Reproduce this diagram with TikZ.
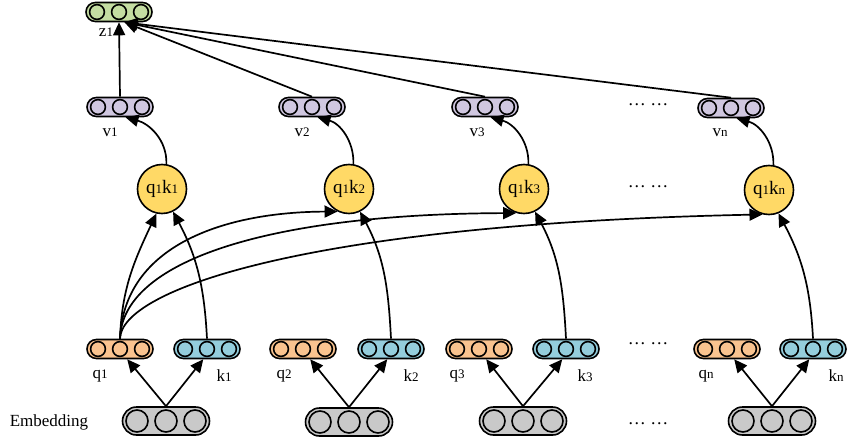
\documentclass[tikz,border=0pt]{standalone}
\usepackage{fontspec}
\setmainfont{Liberation Serif}
\usetikzlibrary{arrows.meta}
\definecolor{zgreen}{HTML}{C4DDA2}
\definecolor{vpurple}{HTML}{D0C7E0}
\definecolor{qorange}{HTML}{F9C38F}
\definecolor{kblue}{HTML}{94CDDC}
\definecolor{scoreyellow}{HTML}{FFD966}
\definecolor{embgray}{HTML}{C9C9C9}

% small vector: pill with three cells
\newcommand{\vecbox}[4]{%
  \node [vec, fill=#4] (#1) at (#2,#3) {};
  \foreach \dx in {-11,0,11}
    \draw [cell, fill=#4] ([xshift=\dx pt]#1.center) circle (3.7pt);
}
% embedding vector
\newcommand{\embbox}[3]{%
  \node [emb] (#1) at (#2,#3) {};
  \foreach \dx in {-14.5,0,14.5}
    \draw [cell, fill=embgray] ([xshift=\dx pt]#1.center) circle (5.5pt);
}
\newcommand{\idx}[1]{{\fontsize{6.5}{7}\selectfont #1}}

\begin{document}
\begin{tikzpicture}[x=0.5pt, y=-0.5pt, font=\fontsize{8.5}{10}\selectfont,
    vec/.style={draw, line width=0.8pt, rounded corners=4.7pt,
      minimum width=33pt, minimum height=9.5pt, inner sep=0pt},
    emb/.style={draw, fill=embgray, line width=0.8pt, rounded corners=7pt,
      minimum width=43.5pt, minimum height=14pt, inner sep=0pt},
    cell/.style={line width=0.8pt},
    score/.style={draw, circle, fill=scoreyellow, line width=0.8pt,
      minimum size=24.5pt, inner sep=0pt, font=\fontsize{9.5}{10}\selectfont},
    link/.style={-{Triangle[length=6.5pt, width=6pt]}, line width=0.85pt},
    dots/.style={font=\fontsize{9}{10}\selectfont}]
  \useasboundingbox (0,0) rectangle (850,444);

  % output
  \vecbox{z1}{119}{12}{zgreen}
  \node (lz1) at (106,32) {z\idx{1}};

  % values
  \vecbox{v1}{120}{107}{vpurple}
  \vecbox{v2}{312}{107}{vpurple}
  \vecbox{v3}{485}{107}{vpurple}
  \vecbox{vn}{731}{108}{vpurple}
  \node (lv1) at (110,132) {v\idx{1}};
  \node (lv2) at (302,132) {v\idx{2}};
  \node (lv3) at (477,132) {v\idx{3}};
  \node (lvn) at (720,133) {v\idx{n}};
  \node [dots] (dv) at (648,105) {\dots\ \dots};

  % scores
  \node [score] (s1) at (162,189) {q\idx{1}k\idx{1}};
  \node [score] (s2) at (349,189) {q\idx{1}k\idx{2}};
  \node [score] (s3) at (524,189) {q\idx{1}k\idx{3}};
  \node [score] (sn) at (769,190) {q\idx{1}k\idx{n}};
  \node [dots] (ds) at (648,187) {\dots\ \dots};

  % queries and keys
  \vecbox{q1}{120}{349}{qorange}
  \vecbox{k1}{207}{349}{kblue}
  \vecbox{q2}{303}{349}{qorange}
  \vecbox{k2}{391}{349}{kblue}
  \vecbox{q3}{479}{349}{qorange}
  \vecbox{k3}{566}{349}{kblue}
  \vecbox{qn}{727}{349}{qorange}
  \vecbox{kn}{813}{349}{kblue}
  \node (lq1) at (100,376) {q\idx{1}};
  \node (lk1) at (224,376) {k\idx{1}};
  \node (lq2) at (284,376) {q\idx{2}};
  \node (lk2) at (411,376) {k\idx{2}};
  \node (lq3) at (457,376) {q\idx{3}};
  \node (lk3) at (585,376) {k\idx{3}};
  \node (lqn) at (706,376) {q\idx{n}};
  \node (lkn) at (836,376) {k\idx{n}};
  \node [dots] (dq) at (648,344) {\dots\ \dots};

  % embeddings
  \embbox{e1}{166}{421}
  \embbox{e2}{349}{422}
  \embbox{e3}{523}{421}
  \embbox{en}{772}{421}
  \node (lemb) at (49,422) {Embedding};
  \node [dots] (de) at (648,424) {\dots\ \dots};

  % embedding -> q, k
  \draw [link] (e1.north) -- (q1.-55);
  \draw [link] (e1.north) -- (k1.-110);
  \draw [link] (e2.north) -- (q2.-55);
  \draw [link] (e2.north) -- (k2.-110);
  \draw [link] (e3.north) -- (q3.-55);
  \draw [link] (e3.north) -- (k3.-110);
  \draw [link] (en.north) -- (qn.-55);
  \draw [link] (en.north) -- (kn.-110);

  % q1 against every key
  \draw [link] (q1.north) to[out=88, in=-115] (s1.-103);
  \draw [link] (q1.north) .. controls (124,245) and (225,212) .. (s2.-117);
  \draw [link] (q1.north) .. controls (122,262) and (265,214) .. (s3.-108);
  \draw [link] (q1.north) .. controls (121,290) and (305,224) .. (sn.-105);
  \draw [link] (k1.north) to[out=93, in=-62] (s1.-64);
  \draw [link] (k2.north) to[out=93, in=-62] (s2.-64);
  \draw [link] (k3.north) to[out=93, in=-62] (s3.-64);
  \draw [link] (kn.north) to[out=93, in=-62] (sn.-68);

  % scores -> values
  \draw [link] (s1.80) to[out=88, in=-15] (v1.-62);
  \draw [link] (s2.80) to[out=88, in=-15] (v2.-62);
  \draw [link] (s3.80) to[out=88, in=-15] (v3.-62);
  \draw [link] (sn.80) to[out=88, in=-15] (vn.-62);

  % values -> output
  \draw [link] (v1.north) -- (z1.south);
  \draw [link] (v2.north) -- (z1.-62);
  \draw [link] (v3.north) -- (z1.-62);
  \draw [link] (vn.north) -- (z1.-62);
\end{tikzpicture}
\end{document}
